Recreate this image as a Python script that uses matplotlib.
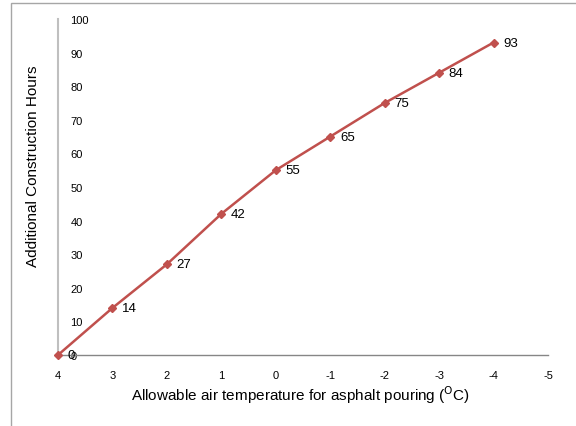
import matplotlib
matplotlib.use("Agg")
import matplotlib.pyplot as plt
from matplotlib.patches import Rectangle

temps = [4, 3, 2, 1, 0, -1, -2, -3, -4]
hours = [0, 14, 27, 42, 55, 65, 75, 84, 93]
x_ticks = [4, 3, 2, 1, 0, -1, -2, -3, -4, -5]
y_ticks = [0, 10, 20, 30, 40, 50, 60, 70, 80, 90, 100]

plt.rcParams['font.family'] = ['Liberation Sans', 'DejaVu Sans']

W, H = 576, 427
fig = plt.figure(figsize=(W / 100, H / 100), dpi=100)
fig.patch.set_facecolor('white')

# outer frame (partially cropped in reference)
fig.add_artist(Rectangle((11 / W, -0.1), 1.2, 1 - 4 / H + 0.1, transform=fig.transFigure,
                         fill=False, edgecolor='#A6A6A6', linewidth=1.0))

ax = fig.add_axes([58 / W, 1 - 356 / H, (548 - 58) / W, (356 - 20) / H])
ax.set_xlim(4, -5)
ax.set_ylim(0, 100)

color = '#C0504D'
ax.plot(temps, hours, color=color, linewidth=1.8, marker='D', markersize=4.5,
        markerfacecolor=color, markeredgecolor=color, clip_on=False, zorder=3)
for t, h in zip(temps, hours):
    ax.annotate(str(h), (t, h), xytext=(7, 0), textcoords='offset points',
                ha='left', va='center', fontsize=9.5, color='black')

for s in ['top', 'right']:
    ax.spines[s].set_visible(False)
ax.spines['left'].set_color('#BFBFBF')
ax.spines['left'].set_linewidth(1.5)
ax.spines['bottom'].set_color('#868686')
ax.spines['bottom'].set_linewidth(1.0)

ax.set_xticks(x_ticks)
ax.set_xticklabels([str(v) for v in x_ticks])
ax.set_yticks(y_ticks)
ax.set_yticklabels([str(v) for v in y_ticks])
ax.tick_params(axis='x', length=0, pad=11, labelsize=8)
ax.tick_params(axis='y', length=0, pad=-9, labelsize=8)
for lab in ax.get_yticklabels():
    lab.set_horizontalalignment('left')

ax.set_xlabel(r'Allowable air temperature for asphalt pouring ($^{\mathrm{O}}$C)',
              fontsize=11)
ax.xaxis.set_label_coords((300 - 58) / 490, -(395 - 356) / 336)
ax.xaxis.label.set_verticalalignment('center')
ax.set_ylabel('Additional Construction Hours', fontsize=11)
ax.yaxis.set_label_coords(-25 / 490, (356 - 166) / 336)
ax.yaxis.label.set_verticalalignment('center')

fig.savefig('out.png', dpi=100)
